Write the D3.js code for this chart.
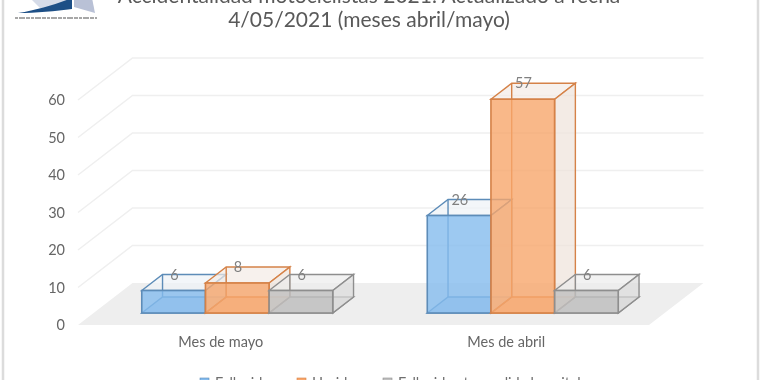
<!DOCTYPE html>
<html>
<head>
<meta charset="utf-8">
<script src="https://cdn.jsdelivr.net/npm/d3@7"></script>
<style>
html,body{margin:0;padding:0;background:#fff;overflow:hidden}
svg{display:block;filter:blur(0.6px)}
text{font-family:Lato,"Open Sans",sans-serif}
</style>
</head>
<body>
<svg id="chart" width="770" height="380"></svg>
<script>
const categories = ["Mes de mayo", "Mes de abril"];
const seriesNames = ["Fallecidos", "Heridos", "Fallecidos tras salida hospital"];
const fallecidos = [6, 26];
const heridos = [8, 57];
const fallecidosTras = [6, 6];
const yTicks = [0, 10, 20, 30, 40, 50, 60];
const titleLines = ["Accidentalidad motociclistas 2021. Actualizado a fecha", "4/05/2021 (meses abril/mayo)"];
const colors = [
  {front:"#84bbee", stroke:"#5d8cb8", side:"#dfe8f0", top:"#eef2f6", bottom:"#7fb0de"},
  {front:"#f8a66c", stroke:"#d58248", side:"#eee2da", top:"#f3ebe5", bottom:"#ef9f68"},
  {front:"#c0c0c0", stroke:"#8e8e8e", side:"#dcdcdc", top:"#ececec", bottom:"#bdbdbd"}
];

const svg = d3.select("#chart");
const values = [fallecidos, heridos, fallecidosTras];

const y = d3.scaleLinear().domain([0, 60]).range([325, 100]);
const x = d3.scaleBand().domain(categories).range([78, 649]);
const sub = d3.scaleBand().domain(seriesNames).range([48.2, 239.2]);

const DX = 54.5, DY = 42;
const proj = (px, py, d) => [px + DX * d, py - DY * d];
const poly = pts => pts.map(p => p.join(",")).join(" ");
const dFront = 12 / 42, dBack = 28 / 42;

// chart frame
svg.append("line").attr("x1",3).attr("x2",3).attr("y1",0).attr("y2",380).attr("stroke","#dcdcdc").attr("stroke-width",2.5);
svg.append("line").attr("x1",758).attr("x2",758).attr("y1",0).attr("y2",380).attr("stroke","#dcdcdc").attr("stroke-width",2.5);

// logo
const logo = svg.append("g");
logo.append("path").attr("d","M30,-2 L72,-2 L72,8 L40,8 Z").attr("fill","#d5dbe8");
logo.append("path").attr("d","M74,-2 L92,-2 L95,13 L74,7 Z").attr("fill","#b9c1d6");
logo.append("path").attr("d","M18,13 C38,10 56,4 72,-2 L72,9 C56,11 36,13 18,13 Z").attr("fill","#1d4f86");
logo.append("line").attr("x1",15).attr("x2",97).attr("y1",18).attr("y2",18).attr("stroke","#8a8a8a").attr("stroke-width",1.5).attr("stroke-dasharray","3 1 6 1 4 1");

// title
svg.append("g").selectAll("text").data(titleLines).join("text")
  .attr("x", 369).attr("y", (d,i) => 3 + i * 24)
  .attr("text-anchor","middle").attr("font-size",21).attr("fill","#595959")
  .text(d => d);

// floor
const [xL, xR] = x.range();
svg.append("polygon")
  .attr("points", poly([proj(xL,y(0),0), proj(xR,y(0),0), proj(xR,y(0),1), proj(xL,y(0),1)]))
  .attr("fill","#eeeeee");

// gridlines on back and side walls
yTicks.filter(t => t > 0).forEach(t => {
  svg.append("polyline")
    .attr("points", poly([proj(xL,y(t),0), proj(xL,y(t),1), proj(xR,y(t),1)]))
    .attr("fill","none").attr("stroke","#efefef").attr("stroke-width",1.5);
});

// value axis
const axisY = svg.append("g").attr("transform","translate(68,0)")
  .call(d3.axisLeft(y).tickValues(yTicks).tickSize(0).tickPadding(3));
axisY.select(".domain").remove();
axisY.selectAll("text").attr("font-size",14.5).attr("fill","#666").style("font-family","Lato");

// category labels
const axisX = svg.append("g").attr("transform","translate(0,334)")
  .call(d3.axisBottom(x).tickSize(0).tickPadding(3));
axisX.select(".domain").remove();
axisX.selectAll("text").attr("font-size",14.5).attr("fill","#666").style("font-family","Lato");

// 3D bars
categories.forEach((cat, ci) => {
  seriesNames.forEach((name, si) => {
    const v = values[si][ci];
    const c = colors[si];
    const x0 = x(cat) + sub(name);
    const x1 = x0 + sub.bandwidth();
    const yb = y(0), yt = y(v);
    const f = (px, py) => proj(px, py, dFront);
    const b = (px, py) => proj(px, py, dBack);
    const g = svg.append("g");
    // floor of the bar
    g.append("polygon").attr("points", poly([f(x0,yb), f(x1,yb), b(x1,yb), b(x0,yb)]))
      .attr("fill",c.bottom).attr("fill-opacity",0.35).attr("stroke",c.stroke).attr("stroke-width",1.4);
    // top and right side
    g.append("polygon").attr("points", poly([f(x0,yt), f(x1,yt), b(x1,yt), b(x0,yt)]))
      .attr("fill",c.top).attr("fill-opacity",0.7).attr("stroke",c.stroke).attr("stroke-width",1.4);
    g.append("polygon").attr("points", poly([f(x1,yb), b(x1,yb), b(x1,yt), f(x1,yt)]))
      .attr("fill",c.side).attr("fill-opacity",0.7).attr("stroke",c.stroke).attr("stroke-width",1.4);
    // back left edge
    g.append("line").attr("x1",b(x0,yb)[0]).attr("y1",b(x0,yb)[1]).attr("x2",b(x0,yt)[0]).attr("y2",b(x0,yt)[1])
      .attr("stroke",c.stroke).attr("stroke-width",1.4);
    // front face
    g.append("polygon").attr("points", poly([f(x0,yb), f(x1,yb), f(x1,yt), f(x0,yt)]))
      .attr("fill",c.front).attr("fill-opacity",0.8).attr("stroke",c.stroke).attr("stroke-width",1.6);
  });
});

// value labels
categories.forEach((cat, ci) => {
  seriesNames.forEach((name, si) => {
    const v = values[si][ci];
    const cx = x(cat) + sub(name) + sub.bandwidth() / 2;
    const p = proj(cx, y(v), dBack);
    svg.append("text").attr("x", p[0] - 20).attr("y", p[1] + 5)
      .attr("text-anchor","middle").attr("font-size",14.5).attr("fill","#808080").text(v);
  });
});

// legend (cut by the bottom edge)
const legendX = d3.scaleOrdinal().domain(seriesNames).range([200, 297, 383]);
const legend = svg.append("g");
seriesNames.forEach((name, si) => {
  legend.append("rect").attr("x",legendX(name)).attr("y",378).attr("width",9).attr("height",9)
    .attr("fill",colors[si].front).attr("stroke",colors[si].stroke).attr("stroke-width",0.6);
  legend.append("text").attr("x",legendX(name)+15).attr("y",388).attr("font-size",14.5).attr("fill","#6f6f6f").text(name);
});
</script>
</body>
</html>
